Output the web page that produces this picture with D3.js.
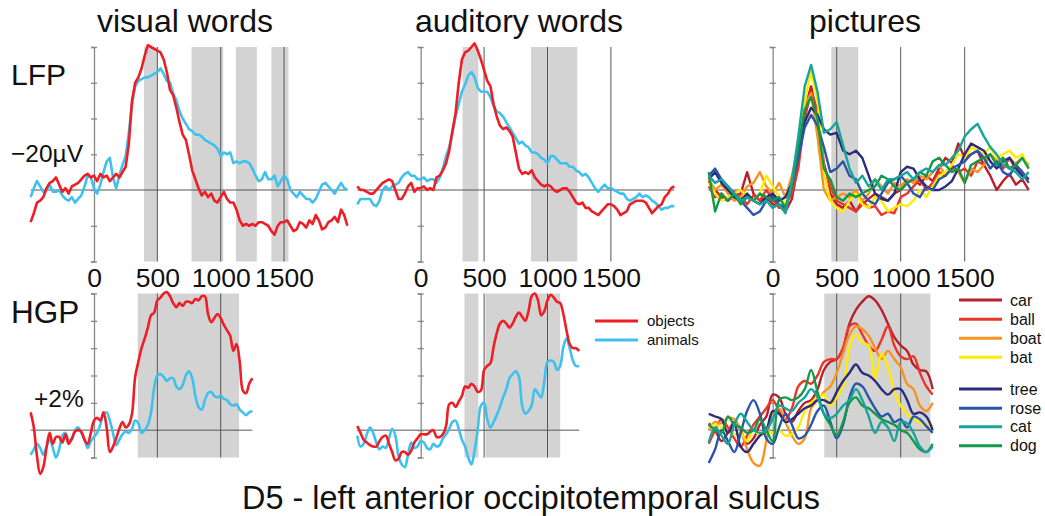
<!DOCTYPE html>
<html>
<head>
<meta charset="utf-8">
<script src="https://cdn.jsdelivr.net/npm/d3@7"></script>
<style>
body { margin: 0; background: #fff; }
svg { font-family: "Liberation Sans", Arial, sans-serif; }
</style>
</head>
<body>
<svg id="chart" width="1045" height="516"></svg>
<script>
// sampling times (ms)
const tLfp = d3.range(-500, 2001, 25);
const tHgp = d3.range(-500, 1251, 25);
const tPicLfp = d3.range(-500, 2001, 50);
const tPicHgp = d3.range(-500, 1251, 50);

const xTicks = [0, 500, 1000, 1500];
const lfpTicks = [-80, -60, -40, -20, 0, 20, 40];
const hgpTicks = [-2, 0, 2, 4, 6, 8, 10];

// LFP (µV, negative up)
const visLfpObjects = [18,13,7,6,4,-1,-4,-5,-7,-3,1,-1,2,-2,-3,-4,-6,-8,-9,-7,-8,-5,-9,-7,-8,-5,-7,-9,-7,-10,-13,-26,-50,-60,-63,-68,-75,-81,-80,-79,-78,-77,-73,-66,-56,-53,-46,-38,-31,-28,-20,-11,-6,-1,3,1,4,2,6,7,4,1,5,7,7,11,17,20,19,20,19,20,18,18,19,20,23,25,20,18,18,17,20,23,22,18,19,21,17,19,14,17,22,21,18,17,15,18,11,14,20];
const visLfpAnimals = [4,-1,-5,-2,1,0,-3,1,1,0,3,5,6,4,7,5,3,-2,-8,-7,-1,2,-3,-10,-16,-18,-7,-1,-8,-14,-19,-32,-48,-58,-61,-62,-63,-63,-64,-65,-66,-68,-65,-61,-60,-54,-50,-44,-40,-37,-34,-33,-31,-31,-30,-28,-27,-26,-25,-23,-19,-21,-20,-21,-15,-16,-15,-16,-16,-15,-12,-8,-5,-6,-10,-6,-6,-8,-2,-5,-8,-6,0,2,4,1,3,5,5,7,5,1,-3,-4,-2,0,2,-1,-4,-1,0];
const audLfpObjects = [-2,0,0,1,2,2,0,-2,-4,-5,-6,-5,0,5,5,2,-2,-4,1,-1,-1,-2,0,-1,0,-7,-8,-11,-15,-22,-33,-43,-60,-73,-77,-78,-80,-82,-78,-73,-67,-61,-58,-48,-41,-36,-34,-35,-33,-30,-21,-12,-9,-10,-9,-11,-7,-5,-3,-2,-3,-2,0,1,0,-1,-1,1,4,7,8,7,10,10,12,13,14,12,10,8,8,9,11,14,13,12,8,7,6,6,6,7,10,13,11,9,8,4,2,-1,-2];
const audLfpAnimals = [8,5,5,5,5,8,9,6,0,-2,0,-2,-3,-4,-7,-9,-10,-8,-8,-6,-6,-7,-5,-6,-6,-4,-7,-12,-19,-24,-32,-41,-48,-55,-59,-64,-66,-63,-57,-55,-55,-55,-52,-47,-44,-43,-41,-38,-35,-32,-29,-26,-27,-25,-24,-21,-21,-20,-18,-17,-15,-19,-19,-17,-15,-15,-15,-13,-13,-11,-10,-8,-9,-7,-4,-1,1,-1,-3,-1,-1,0,1,2,2,5,6,5,4,2,4,3,4,6,7,9,11,10,10,9,9];

// HGP (% change)
const visHgpObjects = [1.3,0.2,-1.9,-3.2,-2.7,-1.3,-0.2,-1.0,-0.5,-0.5,-0.9,-0.3,-1.0,-0.6,-0.1,0.0,-0.1,-0.7,-1.0,-0.2,0.7,0.9,0.7,1.3,0.2,-1.6,-1.2,-0.6,0.1,0.6,0.2,0.4,1.2,3.9,5.0,6.0,6.7,7.5,8.4,8.6,9.5,9.7,10.0,10.1,9.8,9.3,9.0,9.3,9.1,9.4,9.4,9.3,9.6,9.5,9.8,9.8,8.5,7.9,8.2,8.5,8.2,7.7,7.3,6.9,5.8,6.3,5.0,2.9,2.7,3.4,3.8];
const visHgpAnimals = [-1.8,-1.4,-1.0,-1.3,-1.8,-1.2,-0.7,-1.3,-2.0,-1.4,-0.4,-0.2,-0.7,-0.7,0.0,0.2,-0.2,-0.7,-1.3,-0.8,-0.5,-0.2,0.4,1.2,1.3,0.7,-0.2,-1.1,-0.7,-0.3,-0.1,-0.2,0.1,0.7,0.5,-0.2,0.0,0.4,1.3,3.1,4.0,4.1,3.9,3.6,3.8,3.8,3.2,3.0,3.3,4.0,4.3,3.8,2.5,1.7,1.5,2.2,2.7,2.8,2.5,2.4,2.5,2.3,2.2,1.9,1.8,1.9,1.5,1.3,1.1,1.3,1.4];
const audHgpObjects = [0.3,-0.2,-0.7,-0.9,-1.1,-1.2,-1.2,-0.8,-0.5,-0.4,-1.0,-1.6,-2.2,-2.1,-1.6,-1.6,-1.8,-1.5,-0.9,-0.6,-0.3,-0.3,-0.3,-0.1,0.0,-0.5,-0.5,-0.3,0.3,1.9,2.0,1.7,2.1,2.5,3.2,3.1,3.4,3.2,2.8,2.9,4.4,4.7,4.9,6.1,7.1,7.8,8.0,7.8,7.5,7.8,8.3,8.6,8.3,8.0,8.7,9.8,10.0,9.5,8.4,8.7,9.5,9.9,9.7,9.4,9.3,8.5,7.3,6.3,6.0,6.0,5.8];
const audHgpAnimals = [-0.4,-1.2,-1.0,-0.3,0.2,-0.2,-0.9,-1.4,-1.2,-1.3,-0.6,0.1,-0.4,-1.9,-2.5,-2.7,-1.8,-0.9,-1.3,-1.2,-0.8,-0.9,-1.3,-1.4,-1.0,-1.2,-1.1,-0.6,-0.3,0.1,0.6,0.7,0.1,-0.7,-1.2,-2.0,-2.5,-1.5,0.1,1.8,2.0,0.8,0.2,0.6,1.1,1.7,2.4,3.0,3.8,4.1,4.3,3.9,1.8,1.2,1.4,1.8,3.0,2.7,2.4,3.6,5.0,5.1,5.0,4.4,4.7,6.1,6.7,6.0,5.1,4.7,4.7];

// pictures, one series per item
const picItems = ["car", "ball", "boat", "bat", "tree", "rose", "cat", "dog"];
const picColors = ["#b8202c", "#ec3428", "#f7931e", "#ffec00", "#2b2c7c", "#2a55a8", "#17a59b", "#13994a"];

const picLfp = {
  car:  [-5,0,4,6,3,2,-10,2,6,4,8,9,12,5,-15,-45,-58,-40,-10,2,8,10,6,12,8,5,2,4,6,2,0,-4,-6,-3,-8,-5,-12,-18,-15,-26,-18,-20,-22,-14,-8,0,-5,-9,-3,-6,0],
  ball: [-2,4,2,6,1,4,8,3,6,0,5,10,8,2,-12,-40,-55,-45,-15,-2,6,8,10,12,6,10,9,14,12,13,4,2,-2,-6,0,-4,-10,-8,-14,-10,-12,-8,-16,-14,-20,-16,-12,-18,-14,-10,-6],
  boat: [-6,0,-3,2,6,4,-2,-4,-10,-2,2,-4,4,-8,-25,-48,-54,-30,0,6,4,2,4,0,6,2,-6,-2,2,-4,-2,-6,-4,-8,-6,-10,-14,-8,-12,-10,-4,-12,-10,-14,-20,-16,-18,-12,-15,-18,-14],
  bat:  [-4,2,6,4,2,0,4,6,2,-8,-2,4,8,-5,-20,-50,-66,-50,-10,6,10,12,6,2,8,10,4,6,12,10,8,9,6,0,4,-2,-8,-10,-14,-20,-18,-24,-22,-20,-24,-18,-20,-22,-18,-20,-12],
  tree: [-6,-10,-4,0,4,6,2,6,8,4,2,6,4,-4,-20,-38,-46,-42,-34,-31,-32,-22,-20,-22,-18,-8,2,5,6,2,-10,-13,-12,-6,-2,0,0,-2,-5,-12,-20,-26,-24,-22,-16,-12,-16,-18,-12,-8,-6],
  rose: [-8,-12,-6,-2,2,6,10,14,12,6,4,8,10,-2,-18,-35,-42,-36,-24,-10,-12,-16,-8,-6,2,6,8,2,-4,-6,-8,-4,2,4,-2,0,-6,-8,-12,-14,-16,-20,-22,-18,-12,-16,-10,-8,-14,-10,-4],
  cat:  [-8,-4,-6,-2,2,6,4,6,8,6,10,8,13,-5,-30,-58,-70,-55,-32,-34,-38,-25,-12,-4,-8,-2,-6,0,-6,-6,-8,-10,-6,-10,-12,-10,-14,-14,-18,-22,-30,-34,-37,-30,-24,-20,-14,-12,-10,-6,-10],
  dog:  [-10,12,2,6,2,8,4,6,2,4,6,4,10,-2,-24,-45,-52,-40,-12,-6,4,6,2,4,2,0,-2,-8,-6,-2,0,-4,-6,-10,-8,-16,-18,-14,-10,-12,-4,-14,-16,-18,-20,-14,-18,-12,-14,-18,-12]
};
const picHgp = {
  car:  [0.5,0.0,-0.8,-0.2,0.6,0.0,-1.0,-0.6,0.4,1.0,2.6,2.4,1.2,0.6,1.4,2.0,2.2,3.0,4.4,5.0,5.2,6.0,7.8,8.8,9.4,9.8,9.5,8.8,7.8,6.8,6.2,5.8,4.8,4.4,4.3,3.0],
  ball: [-1.0,0.0,0.8,0.2,-0.6,-1.2,-0.4,0.4,1.0,1.6,2.2,1.4,0.8,1.6,3.2,3.6,3.4,4.0,5.0,5.2,5.2,6.0,7.6,7.8,7.0,6.2,5.8,6.6,7.6,6.2,5.4,5.2,5.4,4.2,3.2,2.6],
  boat: [0.0,0.6,0.5,0.9,0.8,0.0,-1.4,-2.4,-2.6,-0.8,1.2,1.6,0.6,-0.4,-1.0,-0.6,1.6,2.2,2.8,3.2,4.2,5.6,7.0,7.6,7.4,6.9,6.0,5.2,5.8,5.2,4.6,3.4,3.0,1.8,1.4,2.0],
  bat:  [0.2,0.4,0.2,-0.2,-0.3,-0.2,-0.8,0.0,-0.4,-0.2,-0.2,0.0,-0.4,-0.3,0.2,1.4,2.0,2.4,2.6,1.8,2.4,3.2,6.0,7.0,6.4,6.2,3.8,5.6,4.6,2.8,1.8,1.2,0.8,0.6,0.4,0.3],
  tree: [1.2,1.0,0.8,-0.2,0.4,-1.2,-1.6,-1.0,-0.4,0.0,1.4,1.2,0.6,0.8,1.2,1.6,1.8,2.2,2.2,2.0,2.8,3.6,4.2,4.8,4.2,4.0,3.6,3.0,2.6,3.0,3.0,2.2,1.2,1.3,1.0,0.0],
  rose: [-2.4,-1.4,0.0,-0.8,-1.6,-0.2,1.4,2.2,1.2,-0.6,-1.0,0.2,1.2,0.4,-0.6,-0.4,0.4,1.4,1.8,0.6,-0.6,0.4,2.4,3.4,3.2,2.4,1.6,1.0,1.2,0.6,0.8,0.2,1.0,0.8,0.3,-0.2],
  cat:  [-0.9,0.2,-0.4,-1.0,0.4,1.2,0.6,0.0,-0.2,0.0,0.8,1.8,1.6,1.4,2.0,2.4,3.0,2.4,1.2,0.9,1.2,1.8,2.2,3.0,2.2,1.0,-0.2,0.6,0.2,-0.8,0.6,0.5,-0.2,-1.2,-1.6,-1.2],
  dog:  [0.4,0.0,-0.2,1.0,0.4,0.2,-0.2,0.0,0.8,0.0,-0.8,2.2,2.4,2.2,2.4,3.0,4.4,2.8,1.2,0.4,-0.4,0.6,2.0,2.4,1.8,1.6,1.2,0.8,0.6,0.4,0.0,-0.2,-0.8,-1.4,-1.6,-1.0]
};

// significance windows (ms)
const visLfpBands = [[395, 500], [770, 1020], [1120, 1285], [1400, 1535]];
const audLfpBands = [[330, 455], [870, 1235]];
const picLfpBands = [[458, 668]];
const visHgpBands = [[345, 1145]];
const audHgpBands = [[345, 455], [510, 1100]];
const picHgpBands = [[403, 1232]];

const RED = "#ef1d25", BLUE = "#3fc1ee";

const svg = d3.select("#chart");

// column geometry: pixel x of t=0 and px per ms
const cols = [
  { x0: 94, k: 0.1267 },
  { x0: 420.7, k: 0.1268 },
  { x0: 772.7, k: 0.128 }
];
const xOf = c => d3.scaleLinear().domain([0, 500]).range([c.x0, c.x0 + 500 * c.k]);

const yLfp = d3.scaleLinear().domain([40, -80]).range([261.5, 47]);
const yHgp = d3.scaleLinear().domain([-2, 10]).range([457.5, 293.5]);

function panel(c, y, ticks, tEnd, grid, bands, series, curve, sw) {
  const x = xOf(c);
  const g = svg.append("g");
  const [yTop, yBot] = d3.extent(ticks.map(y));

  g.selectAll(".band").data(bands).enter().append("rect")
    .attr("x", d => x(d[0])).attr("width", d => x(d[1]) - x(d[0]))
    .attr("y", yTop).attr("height", yBot - yTop)
    .attr("fill", "#d3d3d3");

  g.selectAll(".grid").data(grid).enter().append("line")
    .attr("x1", d => x(d)).attr("x2", d => x(d))
    .attr("y1", yTop).attr("y2", yBot)
    .attr("stroke", "#555").attr("stroke-width", 1);

  g.append("line")
    .attr("x1", x(-500)).attr("x2", x(tEnd))
    .attr("y1", y(0)).attr("y2", y(0))
    .attr("stroke", "#555").attr("stroke-width", 1);

  const ax = g.append("g").attr("transform", `translate(${x(0)},0)`)
    .call(d3.axisLeft(y).tickValues(ticks).tickFormat("").tickSizeOuter(0).tickSize(3));
  ax.select(".domain").attr("stroke", "#888").attr("stroke-width", 1.3);
  ax.selectAll(".tick line").attr("x1", -3).attr("x2", 3).attr("stroke", "#888").attr("stroke-width", 1.3);

  series.forEach(s => {
    const line = d3.line().x((d, i) => x(s.t[i])).y(d => y(d)).curve(curve);
    g.append("path").datum(s.v)
      .attr("d", line)
      .attr("fill", "none")
      .attr("stroke", s.color)
      .attr("stroke-width", sw)
      .attr("stroke-linejoin", "round");
  });
  return x;
}

const smooth = d3.curveCatmullRom.alpha(0.5);

// top row: LFP
const xv = panel(cols[0], yLfp, lfpTicks, 2000, [500, 1000, 1500], visLfpBands, [
  { t: tLfp, v: visLfpAnimals, color: BLUE },
  { t: tLfp, v: visLfpObjects, color: RED }
], d3.curveLinear, 2.6);
const xa = panel(cols[1], yLfp, lfpTicks, 2000, [500, 1000, 1500], audLfpBands, [
  { t: tLfp, v: audLfpAnimals, color: BLUE },
  { t: tLfp, v: audLfpObjects, color: RED }
], d3.curveLinear, 2.6);
const picOrder = ["car", "ball", "boat", "bat", "tree", "rose", "dog", "cat"];
const xp = panel(cols[2], yLfp, lfpTicks, 2000, [500, 1000, 1500], picLfpBands,
  picOrder.map(n => ({ t: tPicLfp, v: picLfp[n], color: picColors[picItems.indexOf(n)] })),
  d3.curveLinear, 2.4);

// bottom row: HGP
panel(cols[0], yHgp, hgpTicks, 1250, [500, 1000], visHgpBands, [
  { t: tHgp, v: visHgpAnimals, color: BLUE },
  { t: tHgp, v: visHgpObjects, color: RED }
], smooth, 2.6);
panel(cols[1], yHgp, hgpTicks, 1250, [500, 1000], audHgpBands, [
  { t: tHgp, v: audHgpAnimals, color: BLUE },
  { t: tHgp, v: audHgpObjects, color: RED }
], smooth, 2.6);
panel(cols[2], yHgp, hgpTicks, 1250, [500, 1000], picHgpBands,
  picOrder.map(n => ({ t: tPicHgp, v: picHgp[n], color: picColors[picItems.indexOf(n)] })),
  smooth, 2.4);

// x tick labels under the top row
[xv, xa, xp].forEach(x => {
  const ax = svg.append("g").attr("transform", "translate(0,265)")
    .call(d3.axisBottom(x).tickValues(xTicks).tickSize(0).tickFormat(d3.format("d")));
  ax.select(".domain").remove();
  ax.selectAll("text").attr("font-size", 26.5).attr("fill", "#111")
    .attr("font-family", "Liberation Sans, Arial, sans-serif");
});

// titles and labels
const titles = [
  { text: "visual words", x: 185 },
  { text: "auditory words", x: 519 },
  { text: "pictures", x: 865 }
];
svg.selectAll(".title").data(titles).enter().append("text")
  .attr("x", d => d.x).attr("y", 32)
  .attr("text-anchor", "middle").attr("font-size", 32).attr("fill", "#111")
  .text(d => d.text);

svg.append("text").attr("x", 11).attr("y", 85).attr("font-size", 30).attr("fill", "#111").text("LFP");
svg.append("text").attr("x", 11).attr("y", 162).attr("font-size", 24.5).attr("fill", "#111").text("\u221220\u00b5V");
svg.append("text").attr("x", 11).attr("y", 323).attr("font-size", 31.5).attr("fill", "#111").text("HGP");
svg.append("text").attr("x", 34).attr("y", 407).attr("font-size", 24.5).attr("fill", "#111").text("+2%");

svg.append("text").attr("x", 531).attr("y", 509)
  .attr("text-anchor", "middle").attr("font-size", 32.4).attr("fill", "#111")
  .text("D5 - left anterior occipitotemporal sulcus");

// legend: objects / animals
const condNames = ["objects", "animals"];
const condColors = [RED, BLUE];
const lg1 = svg.append("g");
condNames.forEach((n, i) => {
  const yy = 321 + i * 19;
  lg1.append("line").attr("x1", 595).attr("x2", 638).attr("y1", yy).attr("y2", yy)
    .attr("stroke", condColors[i]).attr("stroke-width", 3);
  lg1.append("text").attr("x", 647).attr("y", yy).attr("dy", "0.35em")
    .attr("font-size", 15).attr("fill", "#111").text(n);
});

// legend: picture items
const legY = [300, 319.3, 338.3, 357.3, 389, 408.3, 426.7, 445.7];
const lg2 = svg.append("g");
picItems.forEach((n, i) => {
  lg2.append("line").attr("x1", 959).attr("x2", 1002).attr("y1", legY[i]).attr("y2", legY[i])
    .attr("stroke", picColors[i]).attr("stroke-width", 3);
  lg2.append("text").attr("x", 1010).attr("y", legY[i]).attr("dy", "0.35em")
    .attr("font-size", 16).attr("fill", "#111").text(n);
});
</script>
</body>
</html>
